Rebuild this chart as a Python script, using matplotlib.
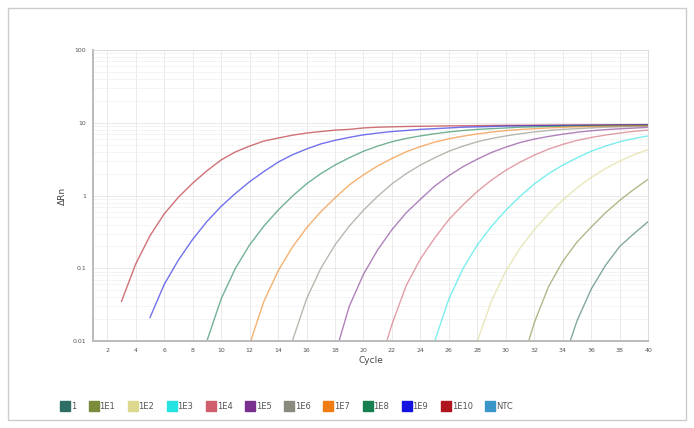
import matplotlib
matplotlib.use("Agg")
import matplotlib.pyplot as plt
from matplotlib.lines import Line2D
from matplotlib.patches import Rectangle

# Legend entries and their colours
names = ["1", "1E1", "1E2", "1E3", "1E4", "1E5", "1E6", "1E7", "1E8", "1E9", "1E10", "NTC"]
colors = ["#2f6e64", "#7b8b3c", "#dcd88e", "#25e3e3", "#cf5f6d", "#7a2f8f",
          "#8a8a7e", "#f07d12", "#178050", "#1414e0", "#b0141e", "#3a96c8"]

# first cycle of each amplification curve (NTC has none)
first_cycle = {"1E10": 3, "1E9": 5, "1E8": 8, "1E7": 12, "1E6": 15, "1E5": 18,
               "1E4": 21, "1E3": 24, "1E2": 27, "1E1": 31, "1": 34}

# delta Rn per cycle
drn_1e10 = [0.035, 0.115, 0.28, 0.56, 0.95, 1.48, 2.19, 3.09, 3.98, 4.79, 5.62, 6.17,
            6.76, 7.24, 7.59, 7.94, 8.13, 8.51, 8.71, 8.81, 8.91, 8.97, 9.03, 9.08,
            9.12, 9.16, 9.2, 9.23, 9.26, 9.29, 9.31, 9.33, 9.35, 9.37, 9.39, 9.41,
            9.43, 9.45]
drn_1e9 = [0.021, 0.060, 0.13, 0.25, 0.44, 0.71, 1.07, 1.55, 2.14, 2.88, 3.63, 4.37,
           5.13, 5.75, 6.31, 6.84, 7.24, 7.59, 7.85, 8.13, 8.32, 8.51, 8.71, 8.81,
           8.91, 9.02, 9.07, 9.12, 9.16, 9.2, 9.23, 9.26, 9.29, 9.32, 9.35, 9.38]
drn_1e8 = [0.002, 0.010, 0.038, 0.10, 0.21, 0.38, 0.63, 0.98, 1.45, 2.0, 2.63, 3.31,
           4.07, 4.79, 5.5, 6.1, 6.61, 7.08, 7.5, 7.85, 8.13, 8.32, 8.51, 8.71, 8.81,
           8.91, 9.0, 9.05, 9.1, 9.14, 9.18, 9.21, 9.24]
drn_1e7 = [0.009, 0.035, 0.092, 0.195, 0.36, 0.60, 0.93, 1.40, 1.93, 2.56, 3.24, 4.0,
           4.72, 5.43, 6.05, 6.56, 7.04, 7.46, 7.82, 8.1, 8.3, 8.5, 8.68, 8.8, 8.9,
           8.98, 9.05, 9.1, 9.15]
drn_1e6 = [0.010, 0.038, 0.10, 0.21, 0.38, 0.63, 0.98, 1.45, 2.0, 2.63, 3.31, 4.07,
           4.79, 5.5, 6.1, 6.61, 7.08, 7.5, 7.85, 8.13, 8.32, 8.51, 8.71, 8.81, 8.91,
           9.0]
drn_1e5 = [0.0065, 0.03, 0.083, 0.18, 0.34, 0.58, 0.89, 1.35, 1.88, 2.5, 3.17, 3.92,
           4.64, 5.36, 5.98, 6.5, 6.98, 7.42, 7.78, 8.07, 8.28, 8.47, 8.67]
drn_1e4 = [0.004, 0.017, 0.058, 0.135, 0.26, 0.47, 0.75, 1.14, 1.64, 2.23, 2.88, 3.6,
           4.35, 5.06, 5.73, 6.3, 6.79, 7.24, 7.64, 7.96]
drn_1e3 = [0.002, 0.010, 0.038, 0.10, 0.21, 0.38, 0.63, 0.98, 1.45, 2.0, 2.63, 3.31,
           4.07, 4.79, 5.5, 6.1, 6.61]
drn_1e2 = [0.002, 0.01, 0.036, 0.092, 0.19, 0.34, 0.56, 0.87, 1.28, 1.78, 2.35, 2.98,
           3.65, 4.3]
drn_1e1 = [0.004, 0.018, 0.056, 0.125, 0.23, 0.37, 0.58, 0.86, 1.22, 1.68]
drn_1 = [0.005, 0.019, 0.052, 0.11, 0.2, 0.3, 0.44]

curves = {"1E10": drn_1e10, "1E9": drn_1e9, "1E8": drn_1e8, "1E7": drn_1e7,
          "1E6": drn_1e6, "1E5": drn_1e5, "1E4": drn_1e4, "1E3": drn_1e3,
          "1E2": drn_1e2, "1E1": drn_1e1, "1": drn_1}

x_ticks = list(range(2, 41, 2))
y_ticks = [0.01, 0.1, 1, 10, 100]
y_labels = ["0.01", "0.1", "1", "10", "100"]

fig = plt.figure(figsize=(6.94, 4.28), dpi=100)
ax = fig.add_axes([0.134, 0.203, 0.800, 0.680])

color_of = dict(zip(names, colors))
for name, vals in curves.items():
    start = first_cycle[name]
    cyc = list(range(start, start + len(vals)))
    ax.plot(cyc, vals, color=color_of[name], lw=1.0, alpha=0.6,
            solid_capstyle="round", solid_joinstyle="round")

ax.set_yscale("log")
ax.set_xlim(1, 40)
ax.set_ylim(0.01, 100)
ax.set_xticks(x_ticks)
ax.set_xticklabels([str(t) for t in x_ticks])
ax.set_yticks(y_ticks)
ax.set_yticklabels(y_labels)
ax.tick_params(axis="both", length=0, labelsize=4.5, colors="#555555", pad=5)

ax.grid(True, which="major", color="#e6e6e6", lw=0.6)
ax.grid(True, which="minor", axis="y", color="#f0f0f0", lw=0.5)
ax.tick_params(axis="y", which="minor", length=0)
ax.yaxis.set_minor_formatter(plt.NullFormatter())

for side in ["top", "right"]:
    ax.spines[side].set_color("#dddddd")
    ax.spines[side].set_linewidth(0.8)
for side in ["left", "bottom"]:
    ax.spines[side].set_color("#bbbbbb")
    ax.spines[side].set_linewidth(1.4)

ax.set_xlabel("Cycle", fontsize=6.5, color="#444444", labelpad=2)
ax.set_ylabel("\u0394Rn", fontsize=6.5, color="#444444", labelpad=4)

handles = [Line2D([], [], marker="s", ls="none", markersize=6.5, color=c) for c in colors]
fig.legend(handles, names, loc="center left", bbox_to_anchor=(0.078, 0.05),
           ncol=12, frameon=False, fontsize=6, handlelength=0.8,
           handletextpad=0.3, columnspacing=1.7, labelcolor="#555555")

# light frame around the whole picture
fig.patches.append(Rectangle((0.012, 0.019), 0.976, 0.962, transform=fig.transFigure,
                             fill=False, edgecolor="#cccccc", lw=1))

fig.savefig("out.png", dpi=100)
